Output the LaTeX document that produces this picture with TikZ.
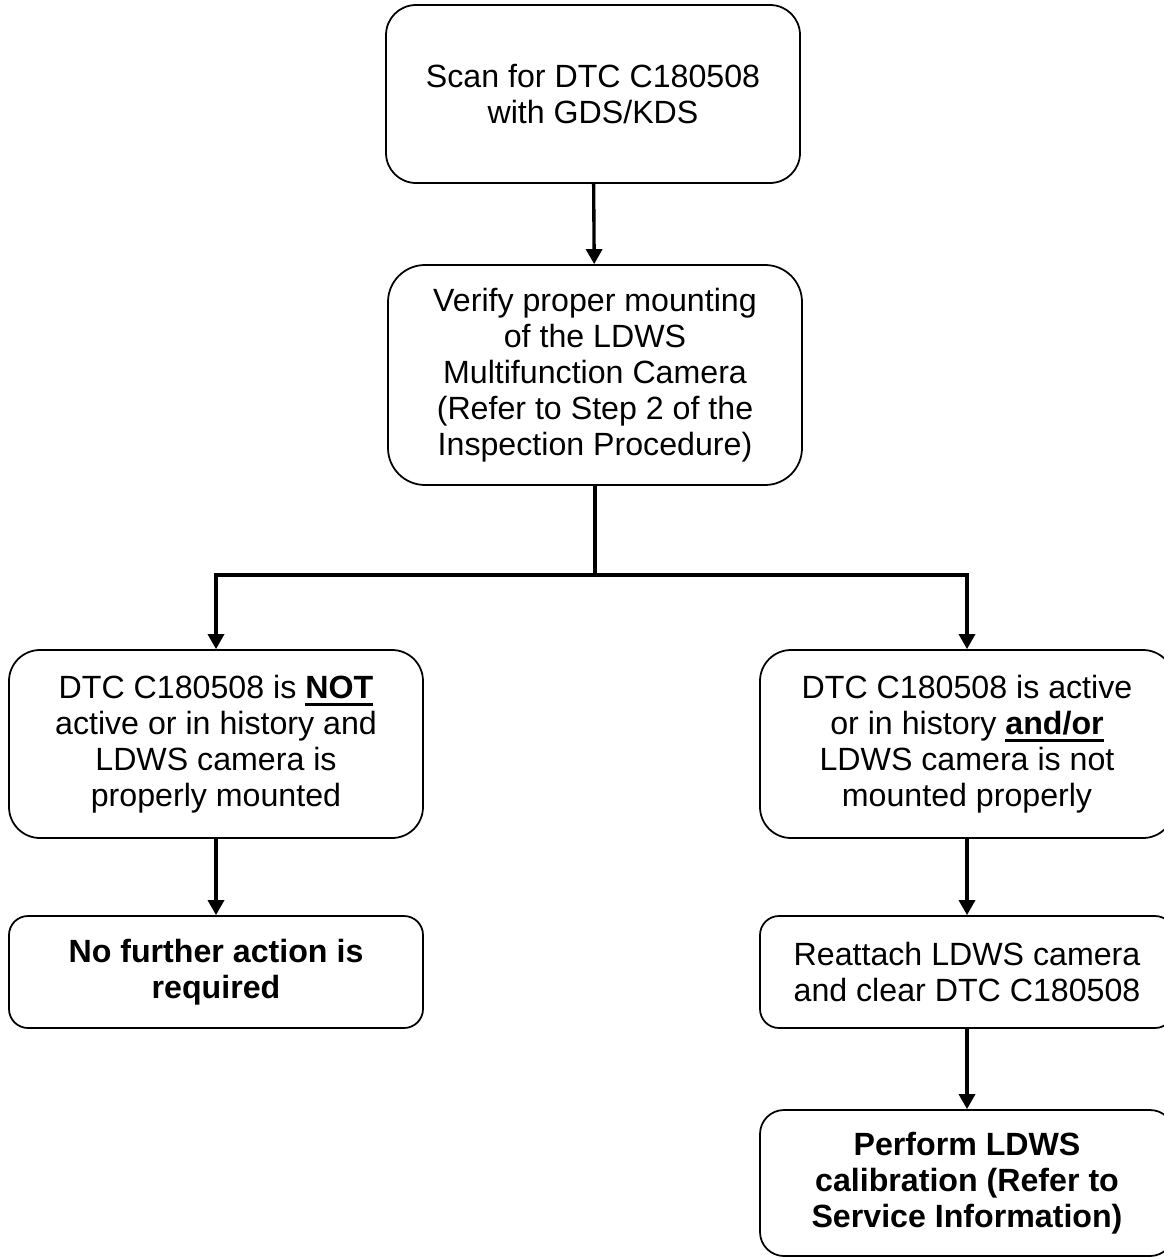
\documentclass[tikz,border=0pt]{standalone}
\usepackage{fontspec}
\setmainfont{Liberation Sans}
\usetikzlibrary{arrows.meta}
\usetikzlibrary{positioning}
\newcommand{\boldul}[1]{\setbox0\hbox{\textbf{#1}}\rlap{\rule[-4.3pt]{\wd0}{1.6pt}}\box0}

\begin{document}
\begin{tikzpicture}[
        stepbox/.style = {draw, line width=1pt, rounded corners=#1,
                align=center, minimum width=8.28cm, inner sep=4pt,
                font=\fontsize{18.3}{20.5}\selectfont},
        stepbox/.default = 0.6cm,
        flow/.style = {line width=1.9pt, -{Triangle[length=0.3cm,width=0.32cm]}},
        joint/.style = {line width=1.9pt}
    ]
    \useasboundingbox (0,0) rectangle (23.26,-25.18);

    \node[stepbox, minimum height=3.56cm] (Scan) at (11.86,-1.88)
        {Scan for DTC C180508\\with GDS/KDS};
    \node[stepbox=0.74cm, minimum height=4.40cm] (Verify) at (11.90,-7.50)
        {Verify proper mounting\\of the LDWS\\Multifunction Camera\\(Refer to Step 2 of the\\Inspection Procedure)};
    \node[stepbox=0.62cm, minimum height=3.76cm] (NotActive) at (4.32,-14.88)
        {DTC C180508 is \boldul{NOT}\\active or in history and\\LDWS camera is\\properly mounted};
    \node[stepbox=0.62cm, minimum height=3.76cm] (Active) at (19.34,-14.88)
        {DTC C180508 is active\\or in history \boldul{and/or}\\LDWS camera is not\\mounted properly};
    \node[stepbox=0.38cm, minimum height=2.24cm] (NoAction) at (4.32,-19.44)
        {\textbf{No further action is}\\\textbf{required}};
    \node[stepbox=0.38cm, minimum height=2.24cm] (Reattach) at (19.34,-19.44)
        {Reattach LDWS camera\\and clear DTC C180508};
    \node[stepbox=0.48cm, minimum height=2.92cm] (Calibrate) at (19.34,-23.66)
        {\textbf{Perform LDWS}\\\textbf{calibration (Refer to}\\\textbf{Service Information)}};

    % branch point under the mounting check
    \coordinate (Split) at (11.90,-11.50);

    \draw[flow] (Scan) -- (Verify);
    \draw[joint] (Verify) -- (Split);
    \draw[flow] (Split) -| (NotActive);
    \draw[flow] (Split) -| (Active);
    \draw[flow] (NotActive) -- (NoAction);
    \draw[flow] (Active) -- (Reattach);
    \draw[flow] (Reattach) -- (Calibrate);
\end{tikzpicture}
\end{document}
